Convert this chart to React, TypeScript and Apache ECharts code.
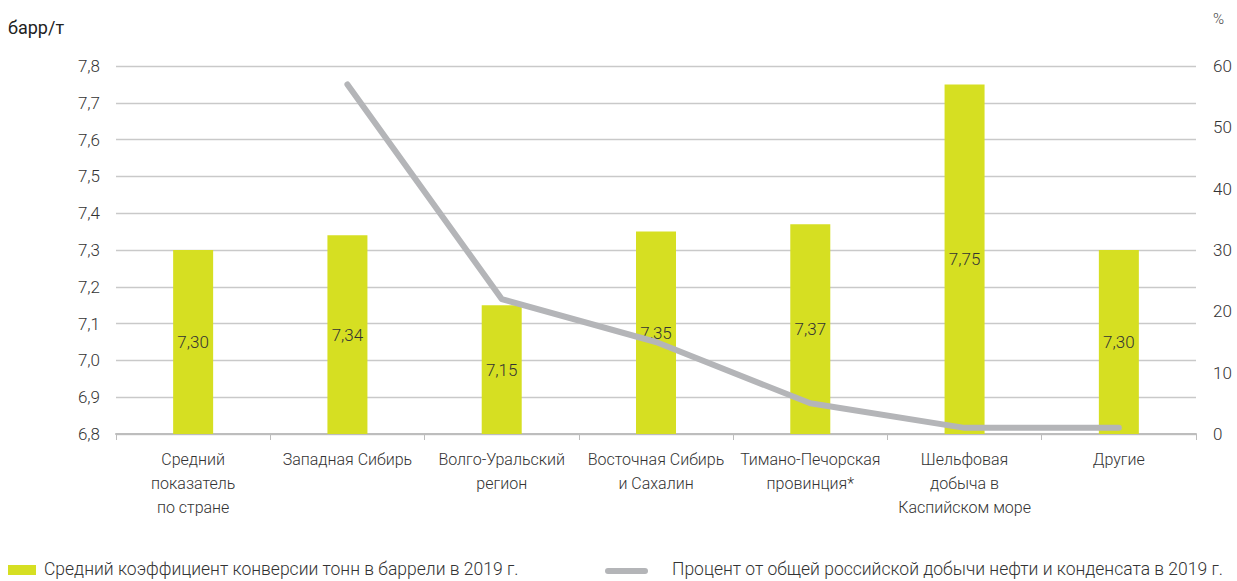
import React, { useEffect, useRef } from "react";
import * as echarts from "echarts";

const categories = [
  "Средний\nпоказатель\nпо стране",
  "Западная Сибирь",
  "Волго-Уральский\nрегион",
  "Восточная Сибирь\nи Сахалин",
  "Тимано-Печорская\nпровинция*",
  "Шельфовая\nдобыча в\nКаспийском море",
  "Другие",
];
const conversion = [7.3, 7.34, 7.15, 7.35, 7.37, 7.75, 7.3];
const sharePct = [null, 57, 22, 15, 5, 1, 1];
const barName = "Средний коэффициент конверсии тонн в баррели в 2019 г.";
const lineName = "Процент от общей российской добычи нефти и конденсата в 2019 г.";

const FONT = "Roboto, 'Noto Sans', sans-serif";
const BAR_COLOR = "#d6df22";
const LINE_COLOR = "#b4b5b8";
const TEXT = "#333333";
const W = 300;

export default function App() {
  const ref = useRef<HTMLDivElement>(null);
  useEffect(() => {
    if (!ref.current) return;
    const chart = echarts.init(ref.current, undefined, { renderer: "svg" });
    chart.setOption({
      animation: false,
      textStyle: { fontFamily: FONT, color: TEXT },
      grid: { left: 116, right: 41, top: 66, bottom: 147 },
      xAxis: {
        type: "category",
        data: categories,
        axisLine: { lineStyle: { color: "#bdbdbd", width: 2 } },
        axisTick: { show: true, length: 6, lineStyle: { color: "#bdbdbd", width: 1 } },
        axisLabel: { color: TEXT, fontSize: 16, fontWeight: W, lineHeight: 24, margin: 13, interval: 0, fontFamily: FONT },
      },
      yAxis: [
        {
          type: "value",
          min: 6.8,
          max: 7.8,
          interval: 0.1,
          axisLine: { show: false },
          axisTick: { show: false },
          splitLine: { lineStyle: { color: "#c9c9c9", width: 1.3 } },
          axisLabel: {
            color: TEXT,
            fontSize: 17,
            fontWeight: W,
            margin: 16,
            fontFamily: FONT,
            formatter: (v: number) => v.toFixed(1).replace(".", ","),
          },
        },
        {
          type: "value",
          min: 0,
          max: 60,
          interval: 10,
          axisLine: { show: false },
          axisTick: { show: false },
          splitLine: { show: false },
          axisLabel: { color: TEXT, fontSize: 17, fontWeight: W, margin: 17, fontFamily: FONT },
        },
      ],
      series: [
        {
          name: barName,
          type: "bar",
          data: conversion,
          barWidth: 40,
          itemStyle: { color: BAR_COLOR },
          label: {
            show: true,
            position: "inside",
            color: TEXT,
            fontSize: 17,
            fontWeight: W,
            fontFamily: FONT,
            formatter: (p: any) => p.value.toFixed(2).replace(".", ","),
          },
          z: 2,
        },
        {
          name: lineName,
          type: "line",
          yAxisIndex: 1,
          data: sharePct,
          showSymbol: false,
          symbol: "none",
          lineStyle: { color: LINE_COLOR, width: 6, cap: "round", join: "round" },
          itemStyle: { color: LINE_COLOR },
          z: 3,
        },
      ],
      graphic: [
        { type: "text", left: 8, top: 18, style: { text: "барр/т", fontSize: 18, fill: "#222", fontFamily: FONT } },
        { type: "text", left: 1213, top: 11, style: { text: "%", fontSize: 15, fontWeight: W, fill: "#444", fontFamily: FONT } },
        { type: "rect", shape: { x: 8, y: 565, width: 28, height: 10 }, style: { fill: BAR_COLOR } },
        { type: "text", left: 44, top: 560, style: { text: barName, fontSize: 17.5, fontWeight: W, fill: TEXT, fontFamily: FONT } },
        { type: "line", shape: { x1: 608, y1: 571, x2: 645, y2: 571 }, style: { stroke: LINE_COLOR, lineWidth: 6, lineCap: "round" } },
        { type: "text", left: 672, top: 560, style: { text: lineName, fontSize: 17.5, fontWeight: W, fill: TEXT, fontFamily: FONT } },
      ],
    });
    return () => chart.dispose();
  }, []);
  return <div ref={ref} style={{ width: 1237, height: 581, position: "absolute", left: 0, top: 0 }} />;
}
